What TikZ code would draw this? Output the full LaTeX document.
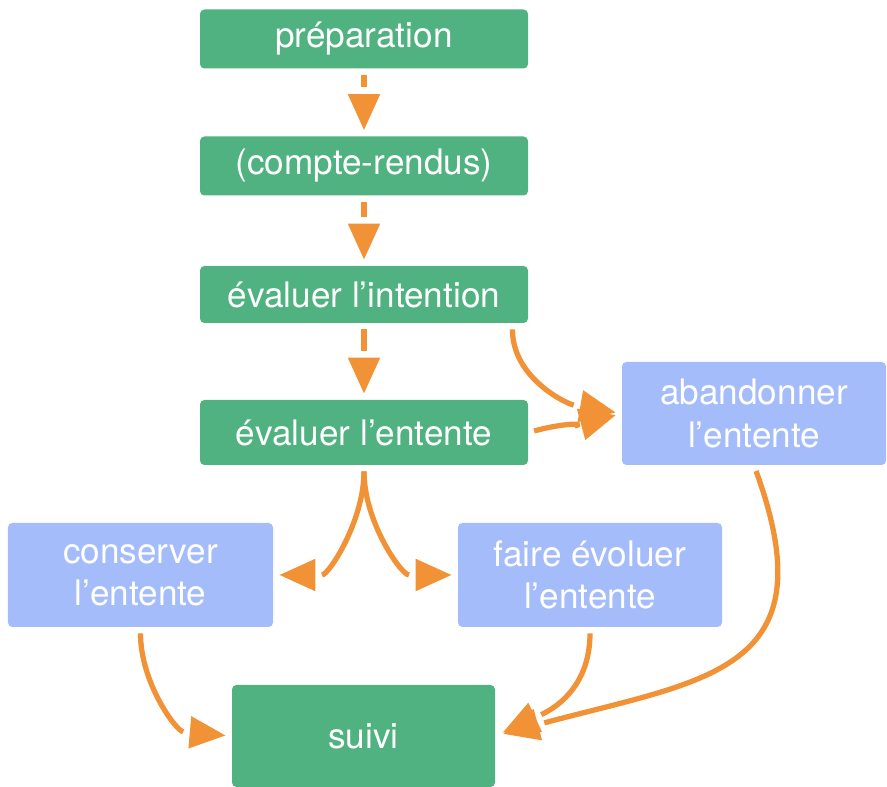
\documentclass[tikz,border=0pt]{standalone}
\usepackage{fontspec}
\setmainfont{TeX Gyre Heros}
\usetikzlibrary{arrows.meta}
\definecolor{boxgreen}{RGB}{80,178,128}
\definecolor{boxblue}{RGB}{164,188,250}
\definecolor{flowor}{RGB}{242,146,54}

\begin{document}
\begin{tikzpicture}[
	etape/.style={fill=boxgreen, rounded corners=2.5pt, minimum width=6.56cm, minimum height=1.18cm, inner sep=0pt, text=white, align=center, font=\fontsize{20}{24}\selectfont},
	issue/.style={etape, fill=boxblue, minimum width=5.28cm, minimum height=2.06cm},
	fleche/.style={draw=flowor, line width=3pt, -{Triangle[length=0.1pt,width=0.1pt,sep=0.13cm] . Triangle[length=0.72cm,width=0.62cm]}, shorten <=0.12cm, shorten >=0.12cm}
	]
	\useasboundingbox (0,0) rectangle (17.74,-15.74);
	\node[etape] (prep) at (7.28,-0.78) {préparation};
	\node[etape] (compte) at (7.28,-3.32) {(compte-rendus)};
	\node[etape, minimum height=1.14cm] (intent) at (7.28,-5.89) {évaluer l’intention};
	\node[etape, minimum height=1.30cm] (entente) at (7.28,-8.65) {évaluer l’entente};
	\node[issue] (aband) at (15.08,-8.27) {abandonner\\l’entente};
	\node[issue, minimum width=5.30cm, minimum height=2.08cm] (conserv) at (2.81,-11.50) {conserver\\l’entente};
	\node[issue, minimum height=2.08cm] (evol) at (11.80,-11.50) {faire évoluer\\l’entente};
	\node[etape, minimum width=5.26cm, minimum height=2.04cm] (suivi) at (7.27,-14.72) {suivi};
	\draw[fleche] (prep) -- (compte);
	\draw[fleche] (compte) -- (intent);
	\draw[fleche] (intent) -- (entente);
	\draw[fleche] (intent.-11) to[out=-90, in=170] (aband.west);
	\draw[fleche] (entente.east) to[out=15, in=195] (aband.west);
	\draw[fleche] (entente.south) to[out=-90, in=0] (conserv.east);
	\draw[fleche] (entente.south) to[out=-90, in=180] (evol.west);
	\draw[fleche] (conserv.south) to[out=-90, in=175] (suivi.west);
	\draw[fleche, shorten >=0.16cm] (evol.south) to[out=-90, in=25, looseness=1.1] (suivi.east);
	\draw[fleche, shorten >=0.16cm] (aband.south) to[out=-70, in=15, looseness=1.5] (suivi.east);
\end{tikzpicture}
\end{document}
